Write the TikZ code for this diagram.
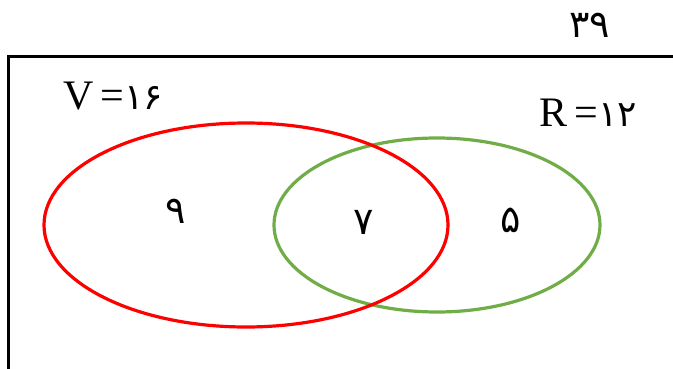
\documentclass[tikz,border=0pt]{standalone}
\usepackage{fontspec}
\setmainfont{Liberation Serif}
\newfontfamily\farsifont[Script=Arabic]{DejaVu Sans}
\usetikzlibrary{positioning}
\definecolor{vennred}{RGB}{255,0,0}
\definecolor{venngreen}{RGB}{112,173,71}

\begin{document}
\begin{tikzpicture}[x=1pt, y=-1pt, line cap=round,
    setline/.style={line width=3.2pt},
    digit/.style={font=\farsifont\fontsize{38}{42}\selectfont, inner sep=0pt},
    setname/.style={font=\fontsize{42}{46}\selectfont, inner sep=0pt}]
\useasboundingbox (0,0) rectangle (673,369);
% Coordinates
\coordinate (V) at (246,225);  % centre of V
\coordinate (R) at (437,225);  % centre of R
% Universe (runs off the page)
\draw[line width=3pt, line cap=butt] (690,57) -- (8.5,57) -- (8.5,390);
% Sets
\draw[venngreen, setline] (R) ellipse [x radius=163, y radius=87];
\draw[vennred, setline] (V) ellipse [x radius=202, y radius=102];
% Labels
\node[digit] (total) at (590,25) {۳۹};
\node[setname] (vname) at (113,96) {V\,={\farsifont\fontsize{36}{40}\selectfont ۱۶}};
\node[setname] (rname) at (588,113) {R\,={\farsifont\fontsize{36}{40}\selectfont ۱۲}};
% Counts
\node[digit] (vonly) at (176,211) {۹};
\node[digit] (both) at (364,222) {۷};
\node[digit] (ronly) at (511,220) {۵};
\end{tikzpicture}
\end{document}
